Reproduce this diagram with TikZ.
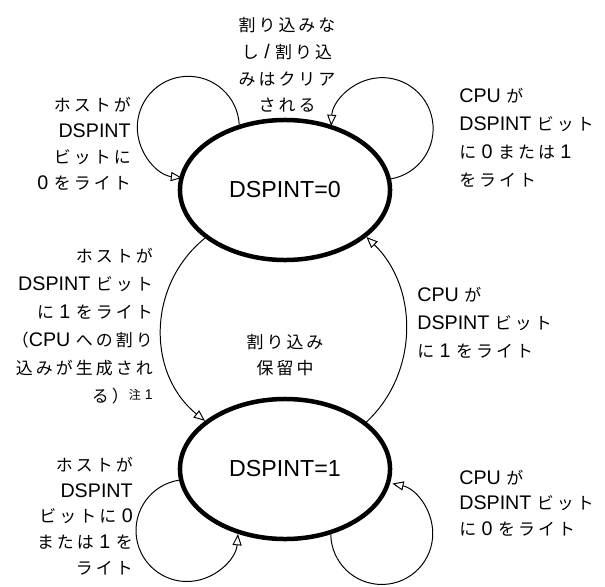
\documentclass[tikz,border=0pt]{standalone}
\usepackage{fontspec}
\setmainfont{Liberation Sans}
\newfontfamily\jpfont[Scale=0.86,LetterSpace=18]{Noto Sans CJK JP}
\newcommand\jp[1]{{\jpfont #1}}
\usetikzlibrary{shapes.geometric,arrows.meta}

\tikzset{
  stnode/.style={ellipse, draw, line width=3.2pt, minimum width=5.25cm,
    minimum height=3.5cm, inner sep=0pt, font=\fontsize{16.5}{20}\selectfont},
  lbl/.style={inner sep=0pt, font=\fontsize{14}{20}\selectfont},
  trans/.style={line width=0.7pt, -{Triangle[open,length=8pt,width=6.5pt]}},
}

\begin{document}
\begin{tikzpicture}[x=0.025cm, y=0.025cm]
\useasboundingbox (0,0) rectangle (605,-586);

\node[stnode] (s0) at (285,-190) {DSPINT=0};
\node[stnode] (s1) at (285,-469) {DSPINT=1};

\node[lbl, align=center, font=\fontsize{14}{19}\selectfont] (noint) at (287,-65)
  {\jp{割り込みな}\\\jp{し} / \jp{割り込}\\\jp{みはクリア}\\\jp{される}};
\node[lbl, align=right, anchor=east, font=\fontsize{14}{18.4}\selectfont] (host0) at (131,-144)
  {\jp{ホストが}\\DSPINT\\\jp{ビットに}\\0 \jp{をライト}};
\node[lbl, align=left, anchor=west] (cpu01) at (459,-138)
  {CPU \jp{が}\\DSPINT \jp{ビット}\\\jp{に} 0 \jp{または} 1\\\jp{をライト}};
\node[lbl, align=right, anchor=east] (host1) at (153,-326)
  {\jp{ホストが}\\DSPINT \jp{ビット}\\\jp{に} 1 \jp{をライト}\\\jp{（}CPU \jp{への割り}\\
   \jp{込みが生成され}\\\jp{る）}\raisebox{2pt}{\fontsize{10}{12}\selectfont\jp{注} 1}};
\node[lbl, align=center, font=\fontsize{14}{18.5}\selectfont] (pend) at (285,-355)
  {\jp{割り込み}\\\jp{保留中}};
\node[lbl, align=left, anchor=west] (cpu1) at (417,-323)
  {CPU \jp{が}\\DSPINT \jp{ビット}\\\jp{に} 1 \jp{をライト}};
\node[lbl, align=right, anchor=east, font=\fontsize{14}{18.3}\selectfont] (host01) at (133,-516)
  {\jp{ホストが}\\DSPINT\\\jp{ビットに} 0\\\jp{または} 1 \jp{を}\\\jp{ライト}};
\node[lbl, align=left, anchor=west, font=\fontsize{14}{18.2}\selectfont] (cpu0) at (459,-503)
  {CPU \jp{が}\\DSPINT \jp{ビット}\\\jp{に} 0 \jp{をライト}};

% self loops
\draw[trans] (s0.125) arc[start angle=3, end angle=263, radius=51];
\draw[trans] (s0.6) arc[start angle=-80, end angle=177, radius=51];
\draw[trans] (s1.186) arc[start angle=99, end angle=356, radius=51];
\draw[trans] (s1.305) arc[start angle=181, end angle=438, radius=51];

% between the states
\draw[trans] (s0.211) to[out=219, in=141, looseness=1.05] (s1.149);
\draw[trans] (s1.30) to[out=43, in=-44, looseness=1] (s0.330);
\end{tikzpicture}
\end{document}
